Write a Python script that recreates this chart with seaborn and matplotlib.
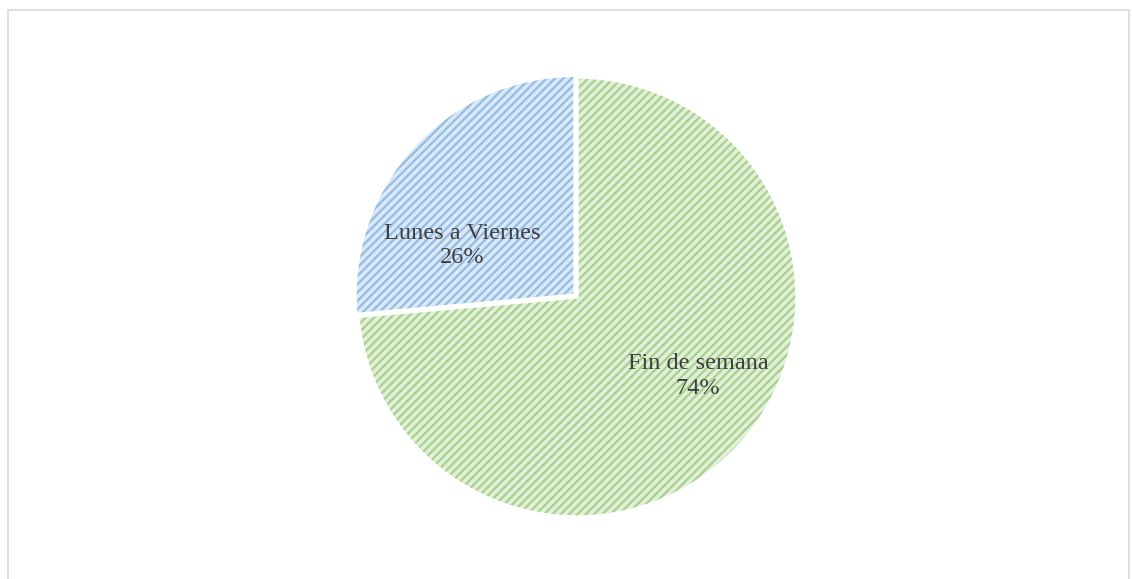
import matplotlib
matplotlib.use("Agg")
import matplotlib.pyplot as plt
import matplotlib.patches as mpatches
import numpy as np
import seaborn as sns

# ── Data ───────────────────────────────────────────────────
labels = ["Fin de semana", "Lunes a Viernes"]
values = [73.6, 26.4]
explode = [0.0, 0.012]

# ── Styling ────────────────────────────────────────────────
sns.set_theme(style="white")
plt.rcParams["font.family"] = ["Liberation Serif", "DejaVu Serif"]
plt.rcParams["hatch.linewidth"] = 1.6

FACE_COLORS  = ["#e3efda", "#dbe9f6"]
HATCH_COLORS = ["#a6d28a", "#93bce5"]
TEXT_COLOR   = "#404040"

W, H = 1132, 579
fig = plt.figure(figsize=(W / 100, H / 100), dpi=100)
fig.patch.set_facecolor("white")

# chart frame
fig.patches.append(mpatches.Rectangle((8 / W, -0.02), 1121 / W, 1 - 10 / H + 0.02,
                                      transform=fig.transFigure, fill=False,
                                      edgecolor="#d9d9d9", linewidth=1.2))

R = 220
cx, cy = 577, 297
ax = fig.add_axes([(cx - 1.1 * R) / W, (H - cy - 1.1 * R) / H, 2.2 * R / W, 2.2 * R / H])

# hatched fill
wedges, _ = ax.pie(values, explode=explode, startangle=90, counterclock=False,
                   colors=FACE_COLORS, radius=1.0,
                   wedgeprops={"linewidth": 0})
for w, hc in zip(wedges, HATCH_COLORS):
    w.set_hatch("////")
    w.set_edgecolor(hc)

# white outline on top
ax.pie(values, explode=explode, startangle=90, counterclock=False,
       colors=["none", "none"], radius=1.0,
       wedgeprops={"linewidth": 2.5, "edgecolor": "white"})

# labels (placed like Excel "best fit")
label_pos = {"Fin de semana": (0.55, -0.36), "Lunes a Viernes": (-0.52, 0.235)}
for lab, val in zip(labels, values):
    x, y = label_pos[lab]
    ax.text(x, y, f"{lab}\n{val:.0f}%", ha="center", va="center", fontsize=17.5,
            color=TEXT_COLOR, linespacing=1.22)

ax.set_xlim(-1.1, 1.1)
ax.set_ylim(-1.1, 1.1)
ax.set_aspect("auto")
ax.axis("off")
fig.savefig("out.png", dpi=100, facecolor="white")
